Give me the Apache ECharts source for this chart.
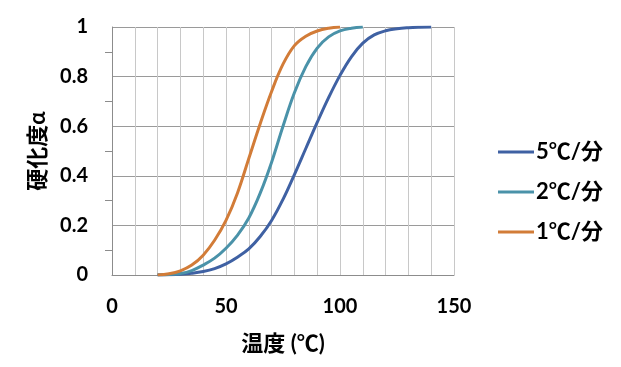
<!DOCTYPE html>
<html><head><meta charset="utf-8">
<script src="https://cdn.jsdelivr.net/npm/echarts@6/dist/echarts.min.js"></script>
<style>html,body{margin:0;padding:0;background:#fff}#c{width:621px;height:367px}</style>
</head><body><div id="c"></div>
<script>
const temps1 = [20,25,30,35,40,45,50,55,60,65,70,75,80,85,90,95,100];
const rate1 = [0,0.005,0.017,0.04,0.08,0.14,0.22,0.33,0.47,0.61,0.74,0.85,0.925,0.963,0.984,0.995,1.0];
const temps2 = [20,25,30,35,40,45,50,55,60,65,70,75,80,85,90,95,100,105,110];
const rate2 = [0,0.002,0.006,0.018,0.04,0.068,0.108,0.16,0.23,0.33,0.455,0.6,0.735,0.84,0.915,0.96,0.984,0.995,1.0];
const temps5 = [20,25,30,35,40,45,50,55,60,65,70,75,80,85,90,95,100,105,110,115,120,125,130,135,140];
const rate5 = [0,0.001,0.003,0.007,0.014,0.026,0.045,0.072,0.105,0.155,0.22,0.305,0.405,0.51,0.615,0.715,0.805,0.88,0.935,0.968,0.985,0.993,0.997,0.999,1.0];
const seriesNames = ['5℃/分','2℃/分','1℃/分'];
const xTicks = [0,50,100,150];
const yTicks = [0,0.2,0.4,0.6,0.8,1];

const colors = ['#3F61A3','#4A92A9','#D27C38'];
const font = 'Lato, "Noto Sans CJK JP", sans-serif';
function pairs(xs, ys){ return xs.map((x,i)=>[x,ys[i]]); }
const chart = echarts.init(document.getElementById('c'));
chart.setOption({
  animation:false,
  grid:{left:112, top:27, right:167, bottom:92, containLabel:false},
  legend:{
    orient:'vertical', left:498, top:141, padding:0,
    itemWidth:36, itemHeight:3, itemGap:18, icon:'rect', itemStyle:{borderWidth:0},
    data:seriesNames,
    textStyle:{fontFamily:font, fontWeight:'bold', fontSize:22, color:'#000', padding:[0,0,0,-3]}
  },
  xAxis:{
    type:'value', min:0, max:150, interval:10,
    name:'温度 (℃)', nameLocation:'middle', nameGap:58,
    nameTextStyle:{fontFamily:font, fontWeight:'bold', fontSize:22, color:'#000'},
    axisLine:{lineStyle:{color:'#8c8c8c', width:1}},
    axisTick:{show:false},
    axisLabel:{margin:22, fontFamily:font, fontWeight:'bold', fontSize:20, color:'#000',
      formatter:v=> xTicks.includes(v) ? String(v) : ''},
    splitLine:{show:true, lineStyle:{color:'#c8c8c8', width:1}}
  },
  yAxis:{
    type:'value', min:0, max:1, interval:0.2,
    name:'硬化度α', nameLocation:'middle', nameGap:63, nameRotate:90,
    nameTextStyle:{fontFamily:font, fontWeight:'bold', fontSize:22, color:'#000'},
    axisLine:{show:true, lineStyle:{color:'#8c8c8c', width:1}},
    axisTick:{show:false},
    minorTick:{show:true, splitNumber:2, length:7, lineStyle:{color:'#8c8c8c'}},
    axisLabel:{margin:24, fontFamily:font, fontWeight:'bold', fontSize:20, color:'#000',
      formatter:v=>{ const t = yTicks.find(k=>Math.abs(k-v)<1e-6); return t===undefined?'':String(t);} },
    splitLine:{show:true, lineStyle:{color:'#9a9a9a', width:1}}
  },
  series:[
    {name:seriesNames[0], type:'line', smooth:0.4, showSymbol:false, data:pairs(temps5, rate5), lineStyle:{width:3, color:colors[0]}, itemStyle:{color:colors[0]}},
    {name:seriesNames[1], type:'line', smooth:0.4, showSymbol:false, data:pairs(temps2, rate2), lineStyle:{width:3, color:colors[1]}, itemStyle:{color:colors[1]}},
    {name:seriesNames[2], type:'line', smooth:0.4, showSymbol:false, data:pairs(temps1, rate1), lineStyle:{width:3, color:colors[2]}, itemStyle:{color:colors[2]}}
  ]
});
</script></body></html>
